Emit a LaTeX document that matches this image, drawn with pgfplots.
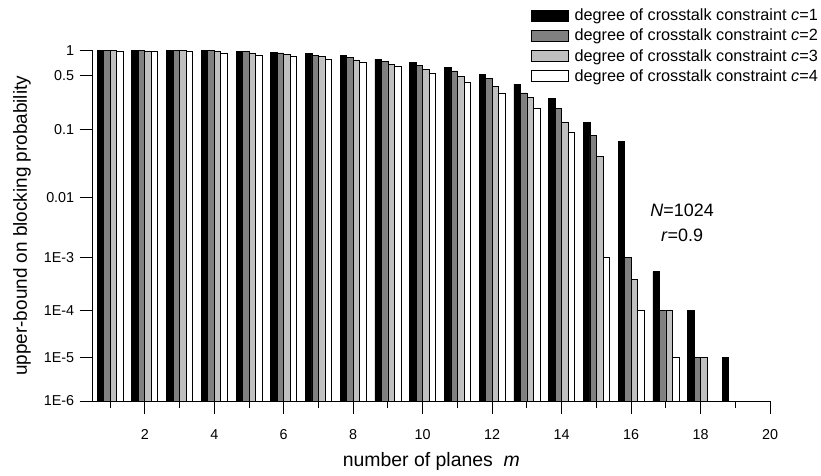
\documentclass[border=0pt]{standalone}
\usepackage{pgfplots}
\pgfplotsset{compat=1.18}
\usepackage{pgfplotstable}
\usepackage{fontspec}
\setmainfont{Liberation Sans}

% upper-bound on blocking probability, columns c1..c4 = degree of crosstalk constraint
\pgfplotstableread{
m  c1      c2      c3      c4
1  1       1       1       0.986
2  1       1       0.99    0.968
3  1       1       0.995   0.968
4  1       0.995   0.968   0.935
5  0.986   0.968   0.935   0.885
6  0.959   0.935   0.904   0.847
7  0.927   0.885   0.847   0.791
8  0.871   0.834   0.775   0.719
9  0.796   0.747   0.687   0.650
10 0.728   0.665   0.600   0.536
11 0.627   0.573   0.498   0.412
12 0.522   0.467   0.374   0.308
13 0.396   0.308   0.269   0.195
14 0.262   0.195   0.128   0.094
15 0.125   0.083   0.042   0.001
16 0.0686  0.001   0.0004  0.0001
17 0.00055 0.0001  0.0001  0.00001
18 0.0001  0.00001 0.00001 nan
19 0.00001 nan     nan     nan
}\datatable

\definecolor{cA}{RGB}{0,0,0}
\definecolor{cB}{RGB}{128,128,128}
\definecolor{cC}{RGB}{192,192,192}
\definecolor{cD}{RGB}{255,255,255}

\newcommand{\tr}[1]{ln(11.5/(5.5-ln(\thisrow{#1})/2.302585))}

\begin{document}
\begin{tikzpicture}
\useasboundingbox (-92.7bp,-75bp) rectangle (728.3bp,401bp);
\begin{axis}[
  at={(0,0)}, anchor=origin,
  scale only axis,
  width=677.3bp, height=350.5bp,
  xmin=0.5, xmax=20,
  ymin=0, ymax=0.73760,
  axis lines=left,
  axis line style={-, line width=0.9bp},
  ybar=0pt, bar width=6.5bp,
  xtick={2,4,6,8,10,12,14,16,18,20},
  xticklabels={2,4,6,8,10,12,14,16,18,20},
  minor xtick={1,3,5,7,9,11,13,15,17,19},
  ytick={0,0.09097,0.19106,0.30228,0.42744,0.57054,0.68431,0.73760},
  yticklabels={1E-6,1E-5,1E-4,1E-3,0.01,0.1,0.5,1},
  tick align=outside,
  major tick length=13bp, minor tick length=7bp,
  tick style={black, line width=0.9bp},
  ticklabel style={font=\fontsize{14.4}{16}\selectfont},
  xticklabel style={yshift=-12bp},
  yticklabel style={xshift=-2bp},
  xlabel={number of planes \ \textit{m}},
  ylabel={upper-bound on blocking probability},
  every axis x label/.style={at={(axis description cs:0.5,-0.1738)}, anchor=center, font=\fontsize{19.5}{21}\selectfont},
  every axis y label/.style={at={(axis description cs:-0.1044,0.5)}, anchor=center, rotate=90, font=\fontsize{19}{21}\selectfont},
  legend style={at={(1.0738,1.125)}, anchor=north east, draw=none, fill=none,
    font=\fontsize{16.3}{18}\selectfont, row sep=3bp, cells={anchor=west},
    inner sep=0pt},
  legend image code/.code={\draw[#1, line width=0.6bp] (0bp,-5.5bp) rectangle (37bp,5.5bp); \path (41bp,0bp);},
  every axis plot/.append style={draw=black, line width=0.6bp},
]
\addplot[fill=cA] table[x=m, y expr={\tr{c1}}] {\datatable};
\addplot[fill=cB] table[x=m, y expr={\tr{c2}}] {\datatable};
\addplot[fill=cC] table[x=m, y expr={\tr{c3}}] {\datatable};
\addplot[fill=cD] table[x=m, y expr={\tr{c4}}] {\datatable};
\legend{degree of crosstalk constraint \textit{c}=1,
        degree of crosstalk constraint \textit{c}=2,
        degree of crosstalk constraint \textit{c}=3,
        degree of crosstalk constraint \textit{c}=4}
\node[font=\fontsize{18}{20}\selectfont, align=center] at (axis cs:17.47,0.4005) {\textit{N}=1024};
\node[font=\fontsize{18}{20}\selectfont, align=center] at (axis cs:17.47,0.3493) {\textit{r}=0.9};
\end{axis}
\end{tikzpicture}
\end{document}
